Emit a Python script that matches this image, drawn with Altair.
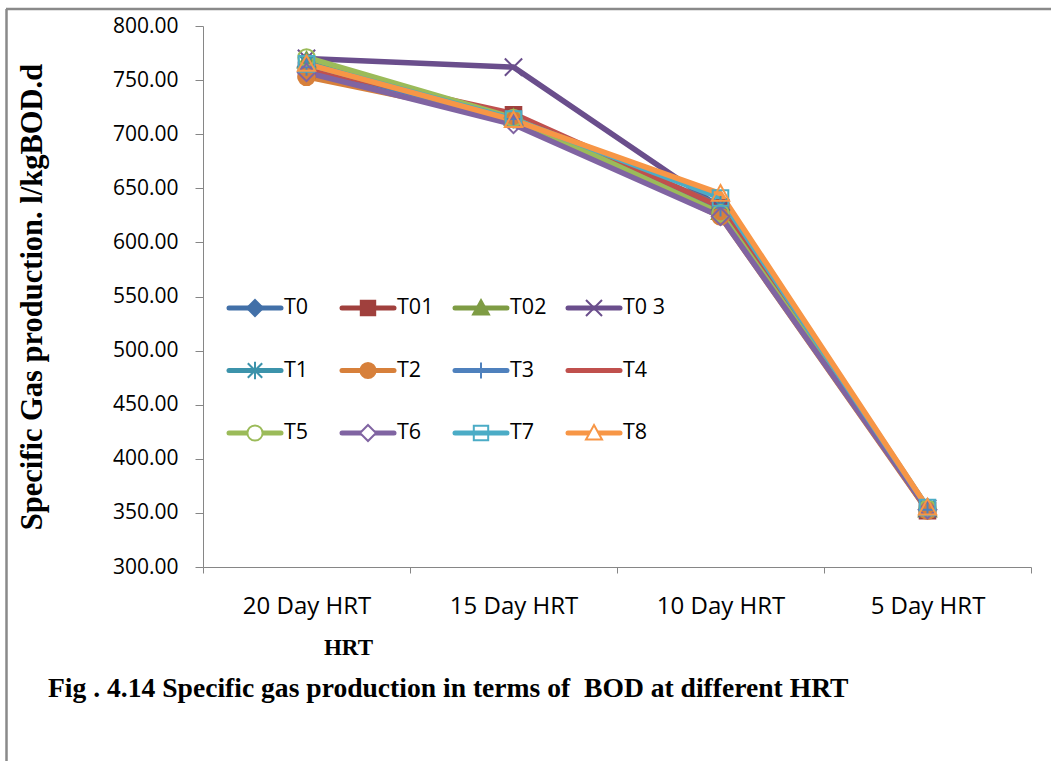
import altair as alt
import pandas as pd

# ---------------- data ----------------
categories = ["20 Day HRT", "15 Day HRT", "10 Day HRT", "5 Day HRT"]
series_names = ["T0", "T01", "T02", "T0 3", "T1", "T2", "T3", "T4", "T5", "T6", "T7", "T8"]

t0 = [762, 715, 630, 353]
t01 = [759, 718, 632, 352]
t02 = [768, 715, 628, 353]
t0_3 = [770, 762, 632, 354]
t1 = [766, 714, 634, 355]
t2 = [753, 714, 624, 352]
t3 = [762, 714, 632, 353]
t4 = [761, 719, 633, 353]
t5 = [771, 715, 627, 354]
t6 = [757, 709, 624, 353]
t7 = [765, 714, 641, 355]
t8 = [765, 713, 645, 355]
series_values = [t0, t01, t02, t0_3, t1, t2, t3, t4, t5, t6, t7, t8]

y_ticks = [300, 350, 400, 450, 500, 550, 600, 650, 700, 750, 800]

y_title = "Specific Gas production. l/kgBOD.d"
x_title = "HRT"
caption = "Fig . 4.14 Specific gas production in terms of \u00a0BOD at different HRT"

# ---------------- style ----------------
colors = ["#4270A8", "#A0403D", "#7E9C44", "#6A4E8C", "#3C93AB", "#D7803B",
          "#4F81BD", "#C0504D", "#9BBB59", "#8064A2", "#4BACC6", "#F79646"]
filled_series = ["T0", "T01", "T02", "T2"]
white_in_legend = ["T5", "T6", "T8"]

diamond = "M0,-1L1,0L0,1L-1,0Z"
square = "M-0.9,-0.9H0.9V0.9H-0.9Z"
triangle = "M0,-1L1,0.8H-1Z"
xmark = "M-1,-1L1,1M1,-1L-1,1"
star = "M-0.9,-0.9L0.9,0.9M0.9,-0.9L-0.9,0.9M0,-1.1V1.1"
circle = "M0.95,0A0.95,0.95,0,1,1,-0.95,0A0.95,0.95,0,1,1,0.95,0Z"
plus = "M0,-1V1M-1,0H1"
nomark = "M0,0L0,0"
marker_paths = [diamond, square, triangle, xmark, star, circle, plus, nomark,
                circle, diamond, square, triangle]

AXIS_GRAY = "#868686"

# ---------------- tables ----------------
rows = []
for name, vals, col in zip(series_names, series_values, colors):
    for cat, v in zip(categories, vals):
        rows.append({
            "hrt": cat,
            "series": name,
            "value": v,
            "fillc": col if name in filled_series else "transparent",
        })
df = pd.DataFrame(rows)

leg_rows = []
for i, (name, col) in enumerate(zip(series_names, colors)):
    if name in filled_series:
        f = col
    elif name in white_in_legend:
        f = "white"
    else:
        f = "transparent"
    leg_rows.append({"series": name, "idx": i, "fillc": f})
df_leg = pd.DataFrame(leg_rows)

color_scale = alt.Scale(domain=series_names, range=colors)
shape_scale = alt.Scale(domain=series_names, range=marker_paths)

x_enc = alt.X(
    "hrt:N",
    sort=categories,
    scale=alt.Scale(type="band", paddingInner=0, paddingOuter=0),
    axis=alt.Axis(
        title=x_title, titleX=145, titleY=80, titleAlign="center",
        titleBaseline="middle", titleFont="Liberation Serif",
        titleFontSize=23, titleFontWeight="bold", titleColor="#000000",
        labelAngle=0, labelFont="Open Sans", labelFontSize=24,
        labelColor="#000000", labelPadding=21, tickSize=6,
        tickBand="extent", tickColor=AXIS_GRAY, domainColor=AXIS_GRAY,
        grid=False,
    ),
)
y_enc = alt.Y(
    "value:Q",
    scale=alt.Scale(domain=[300, 800], nice=False, zero=False),
    axis=alt.Axis(
        values=y_ticks, format=".2f",
        title=y_title, titleAngle=270, titleX=-171, titleY=270.5,
        titleAlign="center", titleBaseline="middle",
        titleFont="Liberation Serif", titleFontSize=30.5,
        titleFontWeight="bold", titleColor="#000000",
        labelFont="Open Sans", labelFontSize=21, labelColor="#000000",
        labelPadding=17, tickSize=8, tickColor=AXIS_GRAY,
        domainColor=AXIS_GRAY, grid=False,
    ),
)

lines = alt.Chart(df).mark_line(
    strokeWidth=5.5, strokeJoin="round", strokeCap="round"
).encode(
    x=x_enc,
    y=y_enc,
    color=alt.Color("series:N", scale=color_scale, legend=None),
)

points = alt.Chart(df).mark_point(
    filled=False, size=300, strokeWidth=2, opacity=1
).encode(
    x=x_enc,
    y=y_enc,
    color=alt.Color("series:N", scale=color_scale, legend=None),
    shape=alt.Shape("series:N", scale=shape_scale, legend=None),
    fill=alt.Fill("fillc:N", scale=None, legend=None),
)

# ---------------- legend (4 columns x 3 rows inside the plot) ----------------
leg_base = alt.Chart(df_leg).transform_calculate(
    lx="52 + (datum.idx % 4) * 113",
    ly="282 + floor(datum.idx / 4) * 62.5",
).transform_calculate(
    lx1="datum.lx - 26",
    lx2="datum.lx + 26",
    tx="datum.lx + 29",
)

leg_lines = leg_base.mark_rule(strokeWidth=5, strokeCap="round").encode(
    x=alt.X("lx1:Q", scale=None),
    x2="lx2:Q",
    y=alt.Y("ly:Q", scale=None),
    color=alt.Color("series:N", scale=color_scale, legend=None),
)
leg_marks = leg_base.mark_point(
    filled=False, size=256, strokeWidth=2, opacity=1
).encode(
    x=alt.X("lx:Q", scale=None),
    y=alt.Y("ly:Q", scale=None),
    color=alt.Color("series:N", scale=color_scale, legend=None),
    shape=alt.Shape("series:N", scale=shape_scale, legend=None),
    fill=alt.Fill("fillc:N", scale=None, legend=None),
)
leg_text = leg_base.mark_text(
    align="left", baseline="middle", font="Open Sans", fontSize=21.5,
    color="#000000"
).encode(
    x=alt.X("tx:Q", scale=None),
    y=alt.Y("ly:Q", scale=None),
    text="series:N",
)

# ---------------- frame and caption ----------------
one = alt.Data(values=[{}])
border_top = alt.Chart(one).mark_rule(color="#8a8a8a", strokeWidth=2.5).encode(
    x=alt.value(-197), x2=alt.value(848), y=alt.value(-17)
)
border_left = alt.Chart(one).mark_rule(color="#8a8a8a", strokeWidth=2.5).encode(
    x=alt.value(-196.5), y=alt.value(-17), y2=alt.value(735)
)
cap = alt.Chart(one).mark_text(
    text=caption, align="left", baseline="alphabetic",
    font="Liberation Serif", fontSize=27.6, fontWeight="bold", color="#000000"
).encode(x=alt.value(-155), y=alt.value(671))

chart = alt.layer(
    border_top, border_left, lines, points, leg_lines, leg_marks, leg_text, cap
).properties(
    width=828, height=541,
    autosize=alt.AutoSizeParams(type="none"),
    padding={"left": 203, "top": 26, "right": 20, "bottom": 194},
    background="white",
).configure_view(stroke=None)

chart.save("out.html", embed_options={"renderer": "svg", "actions": False})
